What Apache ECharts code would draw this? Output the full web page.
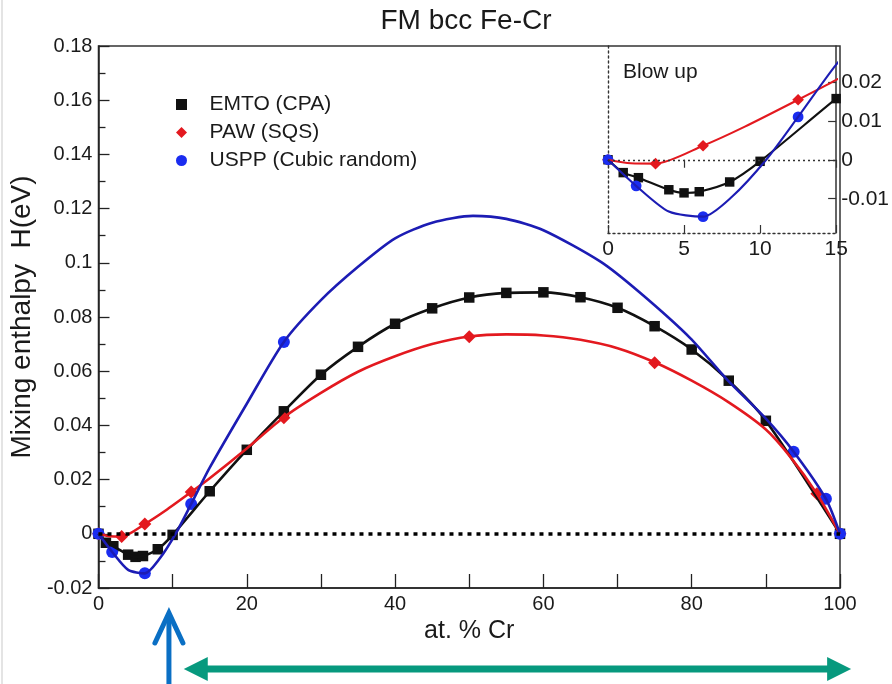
<!DOCTYPE html>
<html>
<head>
<meta charset="utf-8">
<title>FM bcc Fe-Cr</title>
<script src="https://cdn.jsdelivr.net/npm/echarts@6/dist/echarts.min.js"></script>
<style>
  html, body { margin: 0; padding: 0; background: #fff; }
  #chart { width: 892px; height: 684px; }
</style>
</head>
<body>
<div id="chart"></div>
<script>
// EMTO (CPA): computed points, joined by a smooth line
const emtoX = [0, 1, 2, 4, 5, 6, 8, 10, 15, 20, 25, 30, 35, 40, 45, 50, 55, 60, 65, 70, 75, 80, 85, 90, 100];
const emtoY = [0, -0.0033, -0.0046, -0.0077, -0.0085, -0.0082, -0.0057, -0.0004, 0.0157, 0.0310, 0.0452, 0.0587,
  0.0690, 0.0775, 0.0832, 0.0872, 0.0889, 0.0891, 0.0873, 0.0834, 0.0766, 0.0680, 0.0565, 0.0417, 0];

// PAW (SQS): computed points and fitted curve
const pawX = [0, 3.125, 6.25, 12.5, 25, 50, 75, 96.875, 100];
const pawY = [0, -0.0010, 0.0036, 0.0154, 0.0428, 0.0727, 0.0631, 0.0148, 0];
const pawFitX = [0, 1.5, 3.125, 6.25, 9, 12.5, 15, 20, 25, 30, 35, 40, 45, 50, 55, 60, 65, 70, 75, 80, 85, 90, 93.3, 96.875, 100];
const pawFitY = [0, -0.0009, -0.0010, 0.0036, 0.0085, 0.0154, 0.0205, 0.0315, 0.0430, 0.0520, 0.0598, 0.0655, 0.0700,
  0.0728, 0.0736, 0.0732, 0.0716, 0.0685, 0.0633, 0.0565, 0.0485, 0.0385, 0.0284, 0.0148, 0];

// USPP (Cubic random): computed points and fitted curve
const usppX = [0, 1.85, 6.25, 12.5, 25, 93.75, 98.1, 100];
const usppY = [0, -0.0067, -0.0146, 0.0110, 0.0708, 0.0303, 0.0129, 0];
const usppFitX = [0, 1.85, 4, 6.25, 8.15, 10.4, 12.5, 15, 20, 25, 30, 35, 40, 45, 50.5, 55, 60, 67.7, 73, 79.8, 84.8, 90, 93.75, 98.1, 100];
const usppFitY = [0, -0.0067, -0.0133, -0.0146, -0.0095, 0, 0.0110, 0.0244, 0.0480, 0.0708, 0.0862, 0.0985, 0.1090,
  0.1148, 0.1173, 0.1162, 0.1120, 0.1004, 0.0890, 0.0722, 0.0568, 0.0425, 0.0303, 0.0129, 0];

// Inset ("Blow up") tick values on its right-hand axis
const insetYTicks = [-0.01, 0, 0.01, 0.02];

// Annotations under the x axis (at. % Cr)
const markedCr = 9.5;
const stableRange = [11.5, 101.5];

const FONT = "'Liberation Sans', Arial, Helvetica, sans-serif";
const C_BLACK = '#111111';
const C_RED = '#e3191f';
const C_BLUE_LINE = '#1c1cb4';
const C_BLUE_MARK = '#1a2cf0';

const pairs = (xs, ys) => xs.map((x, i) => [x, ys[i]]);

const chart = echarts.init(document.getElementById('chart'), null, { renderer: 'canvas' });

function curveSeries(name, xs, ys, color, g, width, extra) {
  return Object.assign({
    name: name,
    type: 'line',
    xAxisIndex: g, yAxisIndex: g,
    data: pairs(xs, ys),
    showSymbol: false,
    symbol: 'none',
    smooth: 0.25,
    clip: true,
    lineStyle: { color: color, width: width },
    itemStyle: { color: color },
    silent: true,
    animation: false
  }, extra || {});
}

function pointSeries(name, xs, ys, color, symbol, size, g) {
  return {
    name: name,
    type: 'scatter',
    xAxisIndex: g, yAxisIndex: g,
    data: pairs(xs, ys),
    symbol: symbol,
    symbolSize: size,
    clip: true,
    itemStyle: { color: color, opacity: 1 },
    silent: true,
    animation: false
  };
}

function seriesFor(g) {
  const lw = g === 0 ? 2.6 : 2.1;
  const s = g === 0 ? 1 : 0.9;
  const zero = g === 0
    ? { silent: true, symbol: 'none', label: { show: false },
        lineStyle: { color: '#000', type: [4, 5], width: 3.6 }, data: [{ yAxis: 0 }] }
    : { silent: true, symbol: 'none', label: { show: false },
        lineStyle: { color: '#333', type: [2, 3], width: 1.4 }, data: [{ yAxis: 0 }] };
  return [
    curveSeries('EMTO curve ' + g, emtoX, emtoY, C_BLACK, g, lw, { markLine: zero }),
    curveSeries('PAW curve ' + g, pawFitX, pawFitY, C_RED, g, lw),
    curveSeries('USPP curve ' + g, usppFitX, usppFitY, C_BLUE_LINE, g, lw),
    pointSeries('EMTO (CPA)', emtoX, emtoY, C_BLACK, 'rect', 10.5 * s, g),
    pointSeries('PAW (SQS)', pawX, pawY, C_RED, 'diamond', 13 * s, g),
    pointSeries('USPP (Cubic random)', usppX, usppY, C_BLUE_MARK, 'circle', 12 * s, g)
  ];
}

const labelStyle = { color: '#1a1a1a', fontFamily: FONT };

const option = {
  backgroundColor: '#ffffff',
  animation: false,
  textStyle: { fontFamily: FONT },
  grid: [
    { left: 98, right: 52, top: 46, bottom: 96, show: true, borderColor: '#333', borderWidth: 1.5,
      backgroundColor: 'transparent', containLabel: false },
    { left: 608, right: 52, top: 46, height: 187, show: false, containLabel: false }
  ],
  xAxis: [
    { type: 'value', gridIndex: 0, min: 0, max: 100, interval: 20,
      name: 'at. % Cr', nameLocation: 'middle', nameGap: 31,
      nameTextStyle: Object.assign({ fontSize: 25 }, labelStyle),
      axisLine: { show: true, onZero: false, lineStyle: { color: '#222', width: 1.5 } },
      axisTick: { show: true, inside: true, length: 14, lineStyle: { color: '#222', width: 1.3 } },
      minorTick: { show: true, splitNumber: 2, length: 14, lineStyle: { color: '#222', width: 1.3 } },
      axisLabel: Object.assign({ fontSize: 20, margin: 6 }, labelStyle),
      splitLine: { show: false } },
    { type: 'value', gridIndex: 1, min: 0, max: 15, interval: 5,
      axisLine: { show: true, onZero: false, lineStyle: { color: '#333', width: 1.4, type: [2, 3] } },
      axisTick: { show: true, inside: true, length: 8, lineStyle: { color: '#333', width: 1.2 } },
      axisLabel: Object.assign({ fontSize: 21, margin: 6 }, labelStyle),
      splitLine: { show: false } },
    { type: 'value', gridIndex: 1, min: 0, max: 15, interval: 5, position: 'top',
      axisLine: { show: false },
      axisTick: { show: true, inside: true, length: 8, lineStyle: { color: '#333', width: 1.2 } },
      axisLabel: { show: false },
      splitLine: { show: false } }
  ],
  yAxis: [
    { type: 'value', gridIndex: 0, min: -0.02, max: 0.18, interval: 0.02,
      name: 'Mixing enthalpy  H(eV)', nameLocation: 'middle', nameGap: 58, nameRotate: 90,
      nameTextStyle: Object.assign({ fontSize: 28 }, labelStyle),
      axisLine: { show: true, onZero: false, lineStyle: { color: '#222', width: 1.5 } },
      axisTick: { show: true, inside: true, length: 11, lineStyle: { color: '#222', width: 1.3 } },
      minorTick: { show: true, splitNumber: 2, length: 7, lineStyle: { color: '#222', width: 1.3 } },
      axisLabel: Object.assign({ fontSize: 20, margin: 6 }, labelStyle),
      splitLine: { show: false } },
    { type: 'value', gridIndex: 1, min: -0.0188, max: 0.0292, position: 'right',
      axisLine: { show: true, onZero: false, lineStyle: { color: '#333', width: 1.5 } },
      axisTick: { show: true, inside: true, length: 8, customValues: insetYTicks,
        lineStyle: { color: '#333', width: 1.2 } },
      axisLabel: Object.assign({ fontSize: 21, margin: 5, customValues: insetYTicks,
        formatter: v => (Math.abs(v) < 1e-9 ? '0' : String(Math.round(v * 100) / 100)) }, labelStyle),
      splitLine: { show: false } },
    { type: 'value', gridIndex: 1, min: -0.0188, max: 0.0292, position: 'left',
      axisLine: { show: true, onZero: false, lineStyle: { color: '#333', width: 1.4, type: [2, 3] } },
      axisTick: { show: false }, axisLabel: { show: false }, splitLine: { show: false } }
  ],
  legend: {
    orient: 'vertical', left: 171, top: 89, itemGap: 7,
    itemWidth: 11, itemHeight: 11,
    selectedMode: false,
    formatter: name => '   ' + name,
    textStyle: { fontSize: 21, lineHeight: 21, color: '#1a1a1a', fontFamily: FONT },
    data: [
      { name: 'EMTO (CPA)', icon: 'rect', itemStyle: { color: C_BLACK, opacity: 1 } },
      { name: 'PAW (SQS)', icon: 'diamond', itemStyle: { color: C_RED, opacity: 1 } },
      { name: 'USPP (Cubic random)', icon: 'circle', itemStyle: { color: C_BLUE_MARK, opacity: 1 } }
    ]
  },
  series: seriesFor(0).concat(seriesFor(1))
};

chart.setOption(option);

// Title, inset caption, page edge and the arrows under the axis
const p0 = chart.convertToPixel({ gridIndex: 0 }, [markedCr, 0]);
const pa = chart.convertToPixel({ gridIndex: 0 }, [stableRange[0], 0]);
const pb = chart.convertToPixel({ gridIndex: 0 }, [stableRange[1], 0]);
const blueX = p0[0];
const tipY = 613;
const tealY = 669;
const BLUE_ARROW = '#0a6fc4';
const TEAL_ARROW = '#07997e';

chart.setOption({
  graphic: [
    { type: 'rect', left: 1, top: 0, shape: { x: 0, y: 0, width: 2, height: 684 },
      style: { fill: '#e4e4e4' }, silent: true },
    { type: 'text', x: 466, y: 21,
      style: { text: 'FM bcc Fe-Cr', fontSize: 28, fontFamily: FONT, fill: '#1a1a1a',
        textAlign: 'center', textVerticalAlign: 'middle' }, silent: true },
    { type: 'text', x: 623, y: 72,
      style: { text: 'Blow up', fontSize: 21, fontFamily: FONT, fill: '#1a1a1a',
        textAlign: 'left', textVerticalAlign: 'middle' }, silent: true },
    { type: 'line', shape: { x1: blueX, y1: 684, x2: blueX, y2: tipY + 3 },
      style: { stroke: BLUE_ARROW, lineWidth: 5 }, silent: true },
    { type: 'polyline', shape: { points: [[blueX - 14, tipY + 30], [blueX, tipY], [blueX + 14, tipY + 30]] },
      style: { stroke: BLUE_ARROW, lineWidth: 5, fill: null, lineCap: 'round', lineJoin: 'miter' }, silent: true },
    { type: 'line', shape: { x1: pa[0] + 20, y1: tealY, x2: pb[0] - 20, y2: tealY },
      style: { stroke: TEAL_ARROW, lineWidth: 7 }, silent: true },
    { type: 'polygon', shape: { points: [[pa[0], tealY], [pa[0] + 24, tealY - 12], [pa[0] + 24, tealY + 12]] },
      style: { fill: TEAL_ARROW }, silent: true },
    { type: 'polygon', shape: { points: [[pb[0], tealY], [pb[0] - 24, tealY - 12], [pb[0] - 24, tealY + 12]] },
      style: { fill: TEAL_ARROW }, silent: true }
  ]
});
</script>
</body>
</html>
